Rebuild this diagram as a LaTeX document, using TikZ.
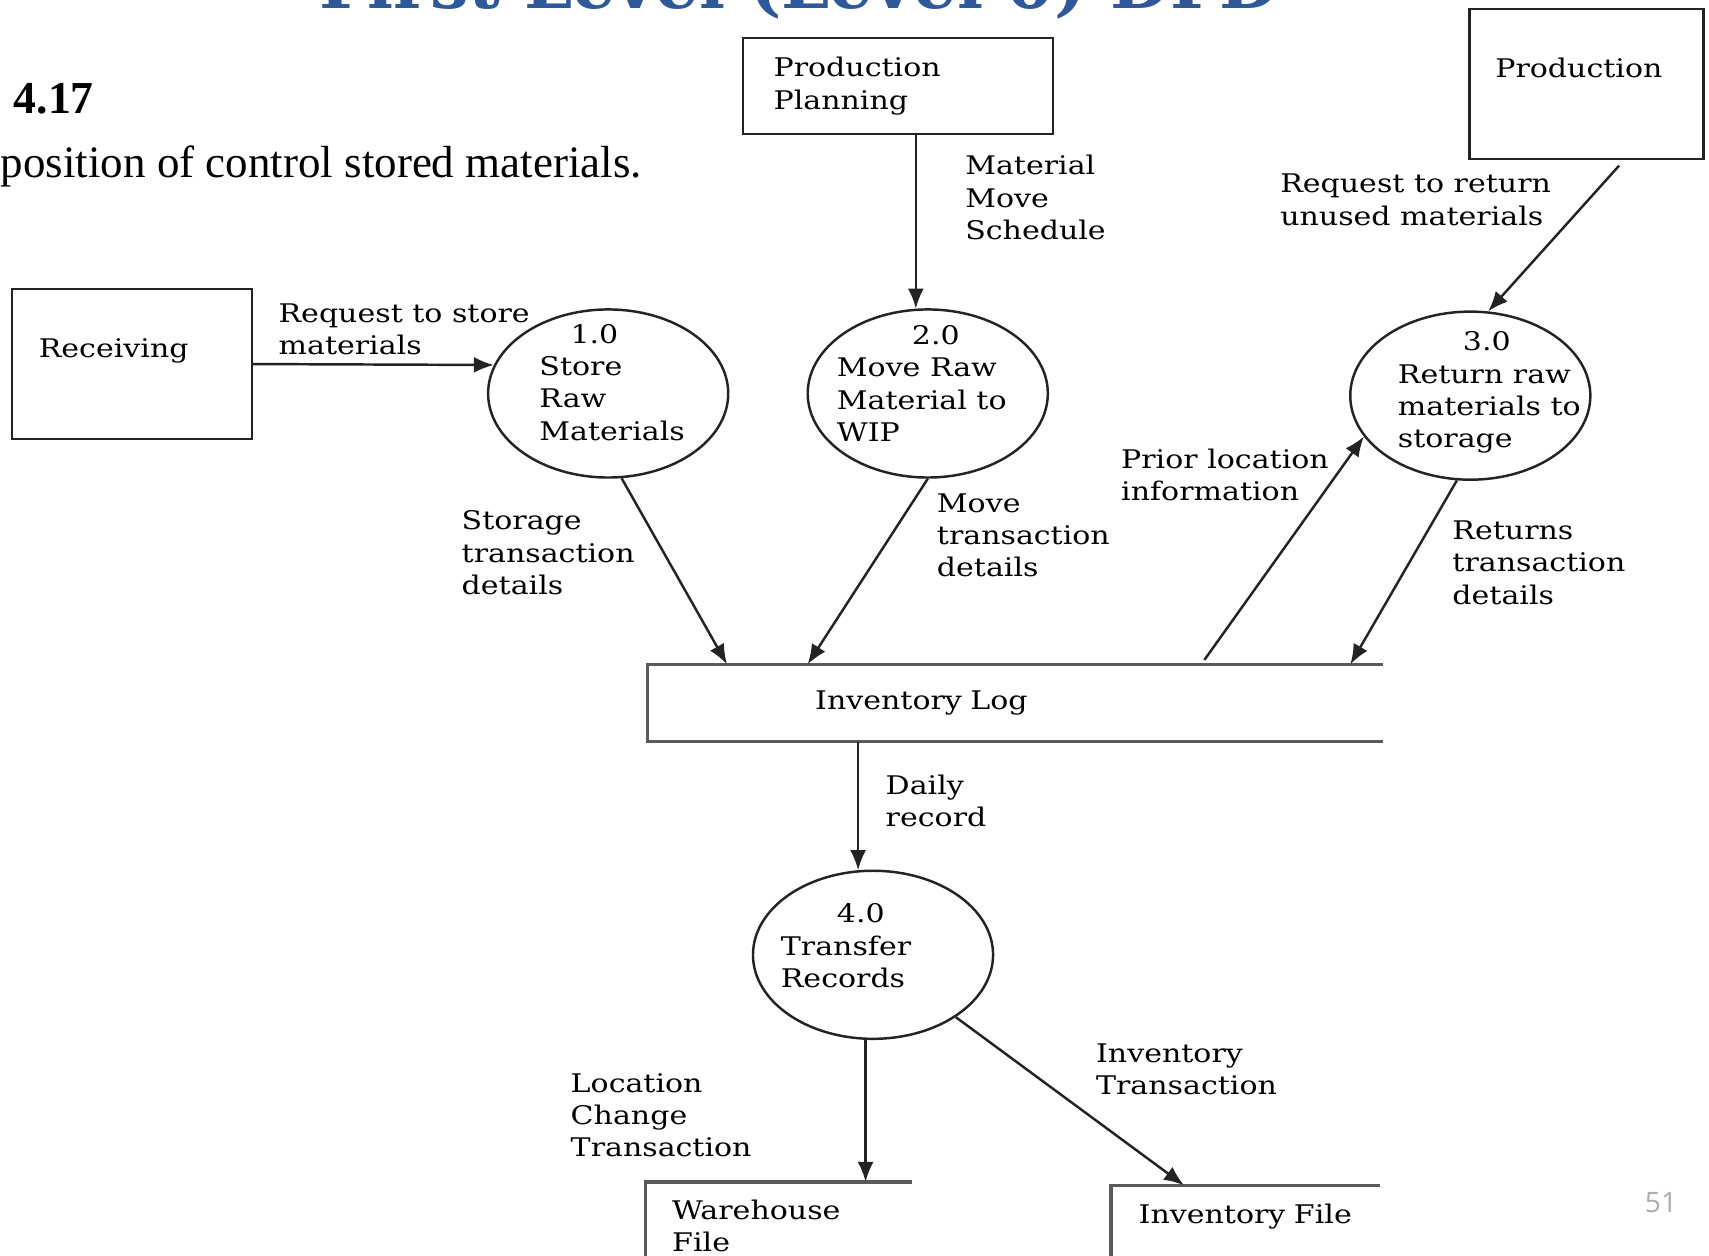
\documentclass[tikz,border=0pt]{standalone}
\usepackage{fontspec}
\setmainfont{DejaVu Serif}[FakeStretch=1.17]
\newfontfamily\bookfont{Liberation Serif}
\newfontfamily\titlefont{DejaVu Serif}
\newfontfamily\slidefont{Open Sans}
\usetikzlibrary{shapes.geometric, arrows.meta, positioning, calc}
\definecolor{linecol}{RGB}{35,35,35}
\definecolor{storecol}{RGB}{90,90,90}
\definecolor{titleblue}{RGB}{47,88,155}

\begin{document}
\begin{tikzpicture}[x=0.0109cm, y=-0.0109cm, font=\fontsize{7.3}{9.2}\selectfont,
		ext/.style={draw=linecol,line width=0.7pt,rectangle,inner xsep=2.7mm,inner ysep=0pt,align=left},
		proc/.style={draw=linecol,line width=0.7pt,ellipse,minimum width=2.4cm,minimum height=1.68cm,inner sep=0pt},
		ptext/.style={align=left,inner sep=0pt},
		store/.style={rectangle,inner sep=0pt,align=left,
			append after command={\pgfextra{\draw[storecol,line width=1pt] (\tikzlastnode.north east) -- (\tikzlastnode.north west) -- (\tikzlastnode.south west) -- (\tikzlastnode.south east);}}},
		lbl/.style={anchor=north west,align=left,inner sep=0pt},
		flow/.style={draw=linecol,line width=0.7pt,-{Latex[length=2mm,width=1.6mm]}}]
		\useasboundingbox (0,0) rectangle (1568,1152);
		\clip (0,0) rectangle (1568,1152);
		% slide parts
		\node (title) [anchor=base,inner sep=0pt,text=titleblue,font=\titlefont\bfseries\fontsize{19.5}{22}\selectfont] at (733,8) {First Level (Level 0) DFD};
		\node (fig) [anchor=west,inner sep=0pt,font=\bookfont\bfseries\fontsize{13}{15}\selectfont] at (12,91) {4.17};
		\node (cap) [anchor=west,inner sep=0pt,font=\bookfont\fontsize{12.8}{15}\selectfont] at (0,153) {position of control stored materials.};
		\node (pg) [inner sep=0pt,text=gray!65,font=\slidefont\fontsize{8}{10}\selectfont] at (1524,1103) {51};
		% external entities
		\node (rec) [ext,text width=1.86cm,minimum height=1.5cm] at (121,334) {Receiving\\~};
		\node (pp) [ext,inner xsep=3.05mm,text width=2.49cm,minimum height=0.96cm] at (824,79) {Production\\Planning};
		\node (prod) [ext,inner xsep=2.6mm,text width=1.82cm,minimum height=1.5cm] at (1455.5,77) {Production\\~};
		% processes
		\node (p1) [proc,label={[ptext,xshift=0.04cm,yshift=0.11cm]center:\hspace*{0.31cm}1.0\\Store\\Raw\\Materials}] at (558,361) {};
		\node (p2) [proc,right=0.77cm of p1,label={[ptext,xshift=-0.06cm,yshift=0.1cm]center:\hspace*{0.75cm}2.0\\Move Raw\\Material to\\WIP}] {};
		\node (p3) [proc,label={[ptext,xshift=0.19cm,yshift=0.03cm]center:\hspace*{0.65cm}3.0\\Return raw\\materials to\\storage}] at (1349,363) {};
		\node (p4) [proc,label={[ptext,xshift=-0.27cm,yshift=0.09cm]center:\hspace*{0.56cm}4.0\\Transfer\\Records}] at (801,876) {};
		% data stores
		\node (log) [store,inner xsep=1.67cm,text width=4.0cm,minimum height=0.76cm] at (931.5,645) {Inventory Log};
		\node (wh) [store,inner xsep=0.26cm,text width=2.13cm,minimum height=0.86cm] at (714.5,1124.5) {Warehouse\\File};
		\node (inv) [store,inner xsep=0.27cm,text width=2.13cm,minimum height=0.88cm] at (1142.5,1128.5) {\mbox{Inventory File}\\~};
		% flows
		\draw [flow] (rec.east) -- (p1.166);
		\draw [flow] (pp.south -| p2.98) -- (p2.98);
		\draw [flow] ($(prod.south)+(30,5)$) -- (p3.78);
		\draw [flow] (p1.-81) -- ($(log.north west)+(73,0)$);
		\draw [flow] (p2.-90) -- ($(log.north west)+(147,0)$);
		\draw [flow] ($(log.north west)+(511,-4)$) -- (p3.201);
		\draw [flow] (p3.-99) -- ($(log.north west)+(645,0)$);
		\draw [flow] (log.south -| p4.100) -- (p4.100);
		\draw [flow] (p4.-95) -- (p4.-95 |- wh.north);
		\draw [flow] (p4.-37) -- ($(inv.north west)+(67,0)$);
		% flow labels
		\node (lstore) [lbl] at (255,278) {Request to store\\materials};
		\node (lsched) [lbl] at (885,142) {Material\\Move\\Schedule};
		\node (lreturn) [lbl] at (1174,159) {Request to return\\unused materials};
		\node (lstor) [lbl] at (423,468) {Storage\\transaction\\details};
		\node (lmove) [lbl] at (859,452) {Move\\transaction\\details};
		\node (lprior) [lbl] at (1028,411) {Prior location\\information};
		\node (lrets) [lbl] at (1332,477) {Returns\\transaction\\details};
		\node (ldaily) [lbl] at (812,710) {Daily\\record};
		\node (lloc) [lbl] at (523,984) {Location\\Change\\Transaction};
		\node (linv) [lbl] at (1005,957) {Inventory\\Transaction};
	\end{tikzpicture}
\end{document}
